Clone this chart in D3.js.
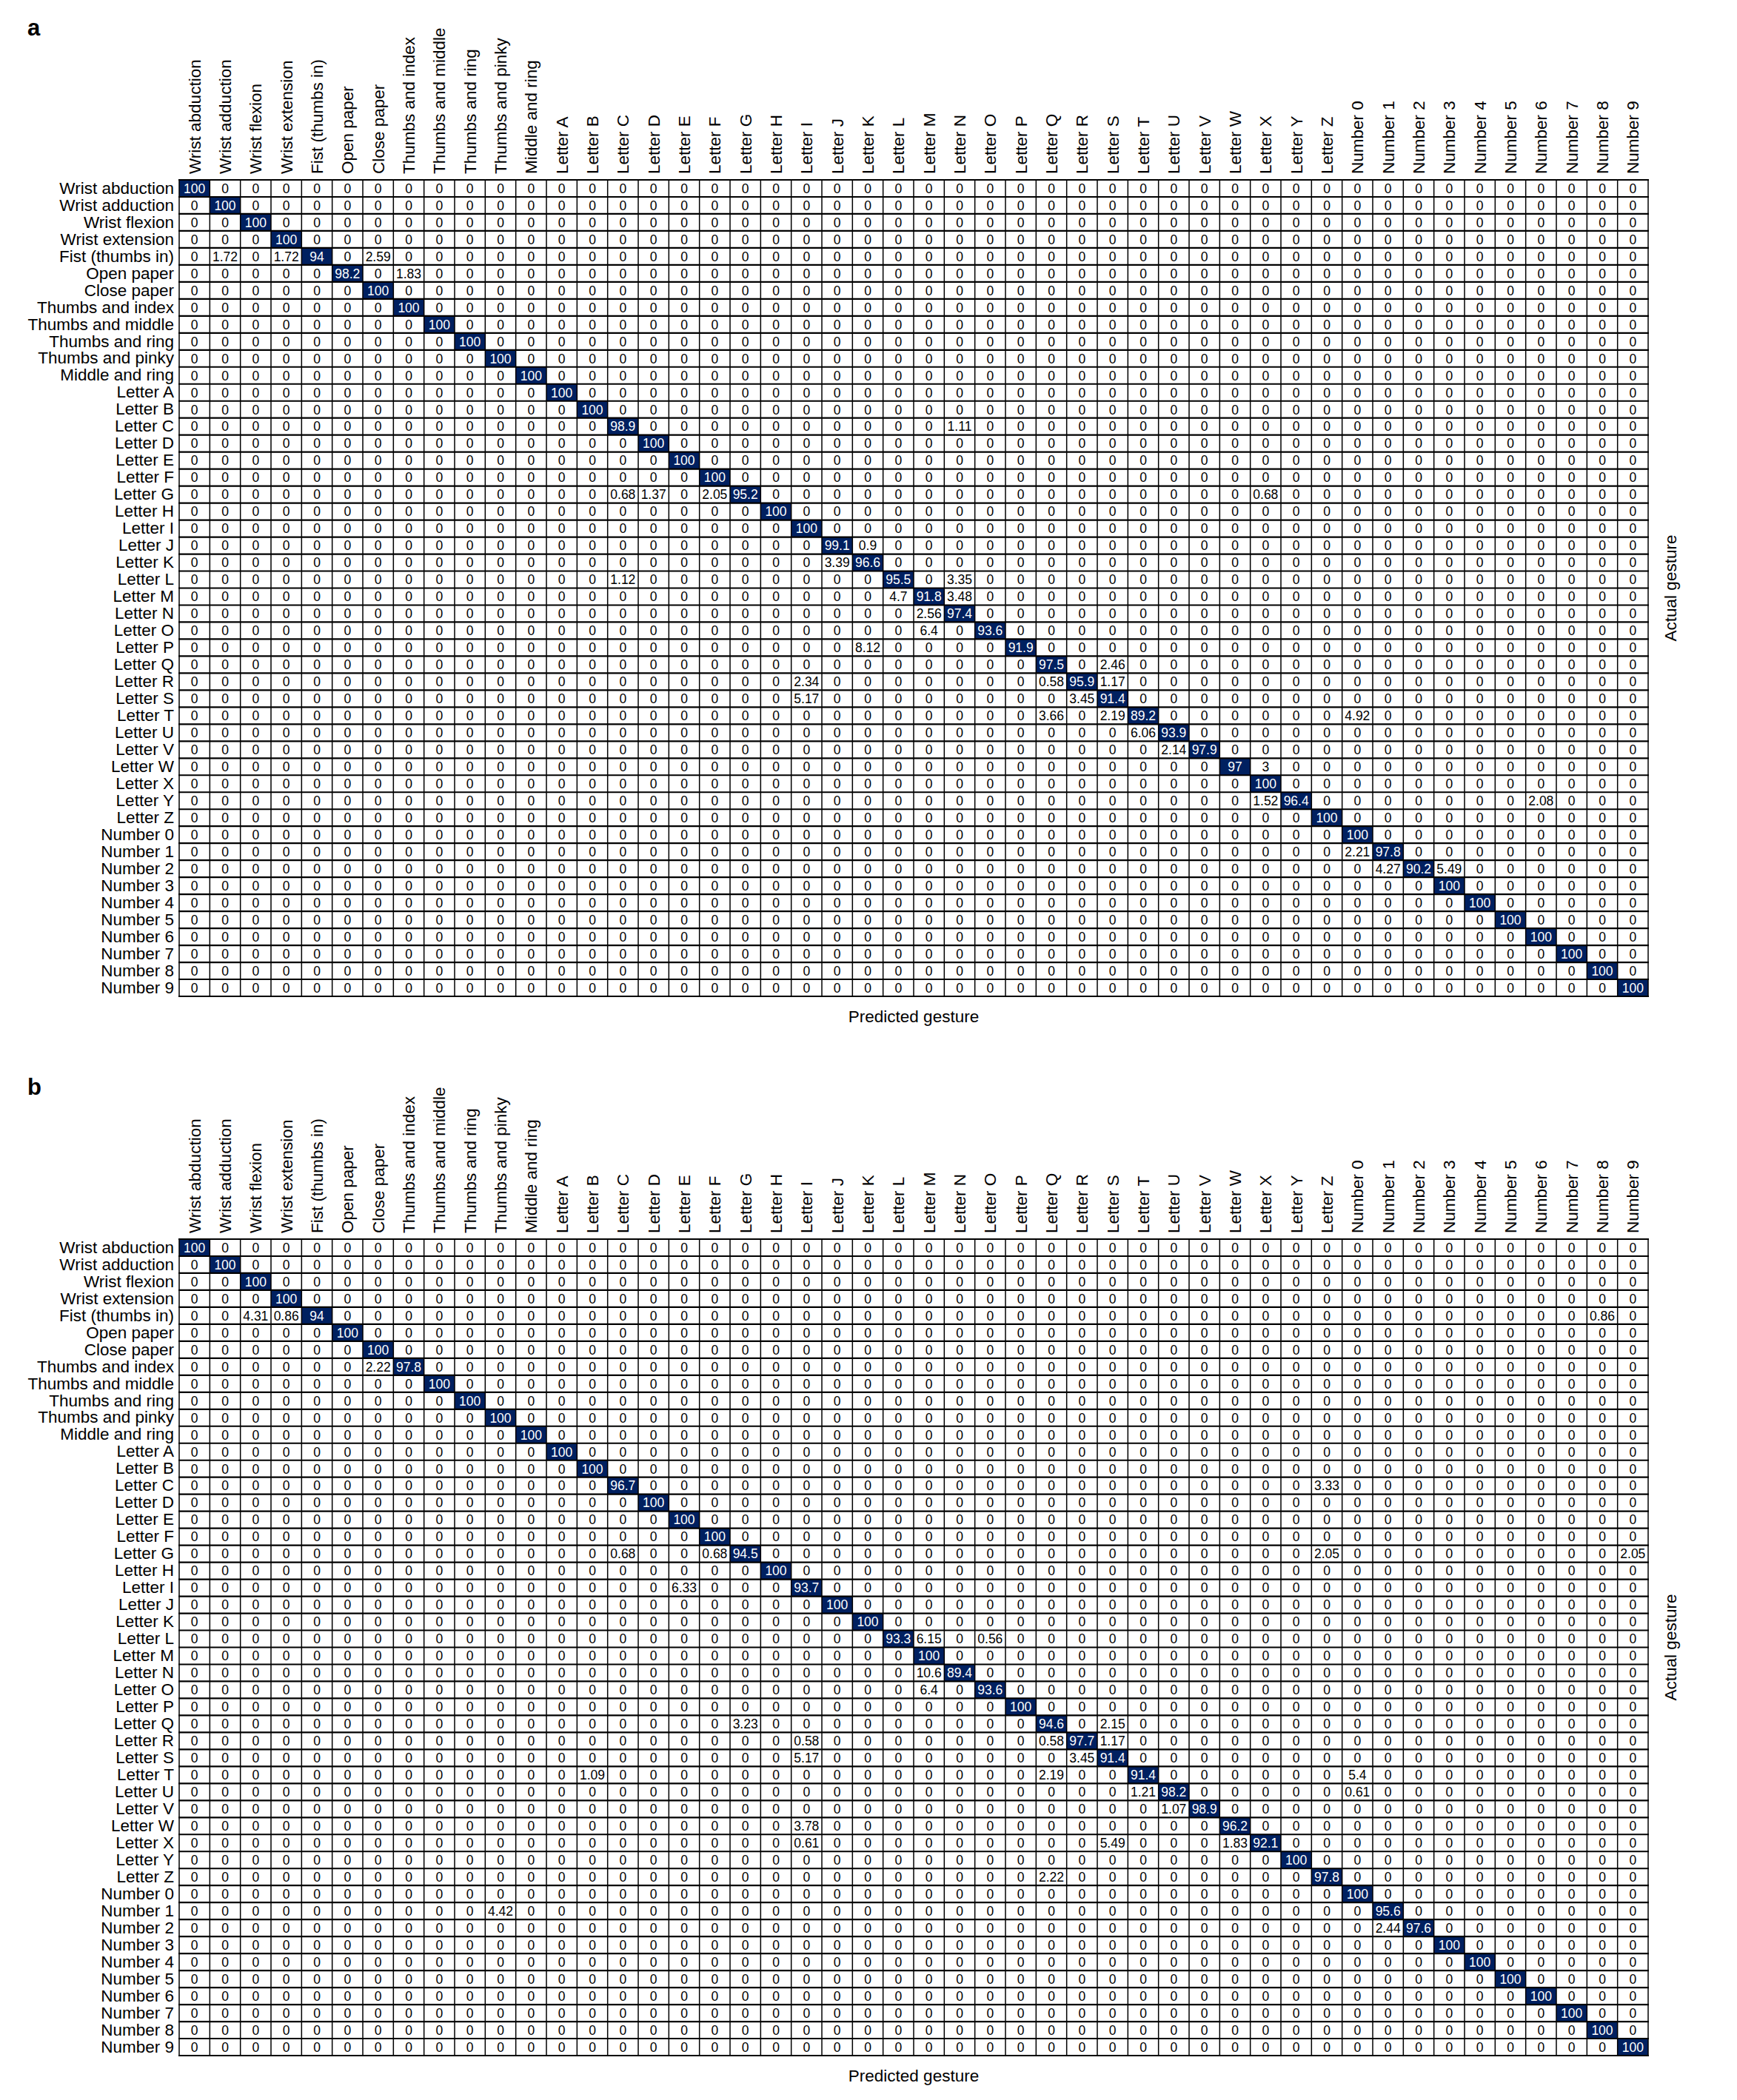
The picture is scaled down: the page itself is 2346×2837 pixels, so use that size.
<!DOCTYPE html>
<html>
<head>
<meta charset="utf-8">
<script src="https://cdn.jsdelivr.net/npm/d3@7"></script>
<style>
  body { margin: 0; background: #fff; }
  svg { display: block; font-family: "Liberation Sans", Arial, Helvetica, sans-serif; }
</style>
</head>
<body>
<svg id="chart" width="2346" height="2837"></svg>
<script>
// gesture classes (rows = actual, columns = predicted)
var gestures = ["Wrist abduction", "Wrist adduction", "Wrist flexion", "Wrist extension",
  "Fist (thumbs in)", "Open paper", "Close paper", "Thumbs and index", "Thumbs and middle",
  "Thumbs and ring", "Thumbs and pinky", "Middle and ring",
  "Letter A", "Letter B", "Letter C", "Letter D", "Letter E", "Letter F", "Letter G",
  "Letter H", "Letter I", "Letter J", "Letter K", "Letter L", "Letter M", "Letter N",
  "Letter O", "Letter P", "Letter Q", "Letter R", "Letter S", "Letter T", "Letter U",
  "Letter V", "Letter W", "Letter X", "Letter Y", "Letter Z",
  "Number 0", "Number 1", "Number 2", "Number 3", "Number 4", "Number 5", "Number 6",
  "Number 7", "Number 8", "Number 9"];

// panel a: diagonal (correct) percentages, in gesture order
var diagA = [100, 100, 100, 100, 94, 98.2, 100, 100, 100, 100, 100, 100,
  100, 100, 98.9, 100, 100, 100, 95.2, 100, 100, 99.1, 96.6, 95.5, 91.8, 97.4,
  93.6, 91.9, 97.5, 95.9, 91.4, 89.2, 93.9, 97.9, 97, 100, 96.4, 100,
  100, 97.8, 90.2, 100, 100, 100, 100, 100, 100, 100];
// panel a: off-diagonal non-zero cells [actual, predicted, %]
var offA = [
  ["Fist (thumbs in)", "Wrist adduction", 1.72], ["Fist (thumbs in)", "Wrist extension", 1.72],
  ["Fist (thumbs in)", "Close paper", 2.59], ["Open paper", "Thumbs and index", 1.83],
  ["Letter C", "Letter N", 1.11],
  ["Letter G", "Letter C", 0.68], ["Letter G", "Letter D", 1.37], ["Letter G", "Letter F", 2.05],
  ["Letter G", "Letter X", 0.68],
  ["Letter J", "Letter K", 0.9], ["Letter K", "Letter J", 3.39],
  ["Letter L", "Letter C", 1.12], ["Letter L", "Letter N", 3.35],
  ["Letter M", "Letter L", 4.7], ["Letter M", "Letter N", 3.48],
  ["Letter N", "Letter M", 2.56], ["Letter O", "Letter M", 6.4], ["Letter P", "Letter K", 8.12],
  ["Letter Q", "Letter S", 2.46],
  ["Letter R", "Letter I", 2.34], ["Letter R", "Letter Q", 0.58], ["Letter R", "Letter S", 1.17],
  ["Letter S", "Letter I", 5.17], ["Letter S", "Letter R", 3.45],
  ["Letter T", "Letter Q", 3.66], ["Letter T", "Letter S", 2.19], ["Letter T", "Number 0", 4.92],
  ["Letter U", "Letter T", 6.06], ["Letter V", "Letter U", 2.14], ["Letter W", "Letter X", 3],
  ["Letter Y", "Letter X", 1.52], ["Letter Y", "Number 6", 2.08],
  ["Number 1", "Number 0", 2.21], ["Number 2", "Number 1", 4.27], ["Number 2", "Number 3", 5.49]
];

// panel b
var diagB = [100, 100, 100, 100, 94, 100, 100, 97.8, 100, 100, 100, 100,
  100, 100, 96.7, 100, 100, 100, 94.5, 100, 93.7, 100, 100, 93.3, 100, 89.4,
  93.6, 100, 94.6, 97.7, 91.4, 91.4, 98.2, 98.9, 96.2, 92.1, 100, 97.8,
  100, 95.6, 97.6, 100, 100, 100, 100, 100, 100, 100];
var offB = [
  ["Fist (thumbs in)", "Wrist flexion", 4.31], ["Fist (thumbs in)", "Wrist extension", 0.86],
  ["Fist (thumbs in)", "Number 8", 0.86], ["Thumbs and index", "Close paper", 2.22],
  ["Letter C", "Letter Z", 3.33],
  ["Letter G", "Letter C", 0.68], ["Letter G", "Letter F", 0.68], ["Letter G", "Letter Z", 2.05],
  ["Letter G", "Number 9", 2.05],
  ["Letter I", "Letter E", 6.33],
  ["Letter L", "Letter M", 6.15], ["Letter L", "Letter O", 0.56],
  ["Letter N", "Letter M", 10.6], ["Letter O", "Letter M", 6.4],
  ["Letter Q", "Letter G", 3.23], ["Letter Q", "Letter S", 2.15],
  ["Letter R", "Letter I", 0.58], ["Letter R", "Letter Q", 0.58], ["Letter R", "Letter S", 1.17],
  ["Letter S", "Letter I", 5.17], ["Letter S", "Letter R", 3.45],
  ["Letter T", "Letter B", 1.09], ["Letter T", "Letter Q", 2.19], ["Letter T", "Number 0", 5.4],
  ["Letter U", "Letter T", 1.21], ["Letter U", "Number 0", 0.61],
  ["Letter V", "Letter U", 1.07], ["Letter W", "Letter I", 3.78],
  ["Letter X", "Letter I", 0.61], ["Letter X", "Letter S", 5.49], ["Letter X", "Letter W", 1.83],
  ["Letter Z", "Letter Q", 2.22],
  ["Number 1", "Thumbs and pinky", 4.42], ["Number 2", "Number 1", 2.44]
];

var svg = d3.select("#chart");
var left = 242, right = 2226, size = 1103;

var xScale = d3.scaleBand().domain(gestures).range([left, right]);
var color = d3.scaleThreshold().domain([50]).range(["#ffffff", "#002060"]);

function buildCells(diag, off) {
  var cells = [];
  gestures.forEach(function(a, i) {
    gestures.forEach(function(p, j) {
      cells.push({actual: a, predicted: p, value: i === j ? diag[i] : 0});
    });
  });
  off.forEach(function(o) {
    var i = gestures.indexOf(o[0]), j = gestures.indexOf(o[1]);
    cells[i * gestures.length + j].value = o[2];
  });
  return cells;
}

function drawPanel(label, top, diag, off) {
  var yScale = d3.scaleBand().domain(gestures).range([top, top + size]);
  var cells = buildCells(diag, off);
  var g = svg.append("g");

  g.append("text")
    .attr("x", 37).attr("y", top - 195)
    .style("font-size", "31px").style("font-weight", "bold")
    .text(label);

  /* cells */
  g.selectAll("rect.cell")
    .data(cells)
    .enter().append("rect")
      .attr("class", "cell")
      .attr("x", function(d) { return xScale(d.predicted); })
      .attr("y", function(d) { return yScale(d.actual); })
      .attr("width", xScale.bandwidth())
      .attr("height", yScale.bandwidth())
      .attr("fill", function(d) { return color(d.value); });

  g.selectAll("text.val")
    .data(cells)
    .enter().append("text")
      .attr("class", "val")
      .attr("x", function(d) { return xScale(d.predicted) + xScale.bandwidth() / 2; })
      .attr("y", function(d) { return yScale(d.actual) + yScale.bandwidth() / 2; })
      .attr("dy", "0.36em")
      .style("text-anchor", "middle")
      .style("font-size", "17.5px")
      .attr("fill", function(d) { return d.value >= 50 ? "#fff" : "#000"; })
      .text(function(d) { return String(d.value); });

  /* grid lines */
  var xs = gestures.map(function(d) { return xScale(d); }).concat([right]);
  var ys = gestures.map(function(d) { return yScale(d); }).concat([top + size]);
  g.selectAll("line.v")
    .data(xs).enter().append("line")
      .attr("x1", function(d) { return d; }).attr("x2", function(d) { return d; })
      .attr("y1", top).attr("y2", top + size)
      .attr("stroke", "#000").attr("stroke-width", 1.5);
  g.selectAll("line.h")
    .data(ys).enter().append("line")
      .attr("y1", function(d) { return d; }).attr("y2", function(d) { return d; })
      .attr("x1", left - 1).attr("x2", right + 1)
      .attr("stroke", "#000").attr("stroke-width", 2.2);

  /* row labels */
  var yAxis = g.append("g")
    .attr("transform", "translate(" + left + ",0)")
    .call(d3.axisLeft(yScale).tickSize(0).tickPadding(7));
  yAxis.select(".domain").remove();
  yAxis.selectAll("text")
    .style("font-size", "22.5px")
    .attr("fill", "#000")
    .style("font-family", "'Liberation Sans', Arial, Helvetica, sans-serif");

  /* column labels */
  var xAxis = g.append("g")
    .attr("transform", "translate(0," + top + ")")
    .call(d3.axisTop(xScale).tickSize(0));
  xAxis.select(".domain").remove();
  xAxis.selectAll("text")
    .attr("transform", "rotate(-90)")
    .attr("x", 8).attr("y", 0).attr("dy", "0.36em")
    .style("text-anchor", "start")
    .style("font-size", "22.5px")
    .attr("fill", "#000")
    .style("font-family", "'Liberation Sans', Arial, Helvetica, sans-serif");

  /* axis titles */
  g.append("text")
    .attr("x", (left + right) / 2).attr("y", top + size + 35)
    .style("text-anchor", "middle").style("font-size", "22.5px")
    .text("Predicted gesture");
  g.append("text")
    .attr("transform", "translate(2264," + (top + size / 2) + ") rotate(-90)")
    .style("text-anchor", "middle").style("font-size", "22.5px")
    .text("Actual gesture");
}

drawPanel("a", 243, diagA, offA);
drawPanel("b", 1674, diagB, offB);
</script>
</body>
</html>
